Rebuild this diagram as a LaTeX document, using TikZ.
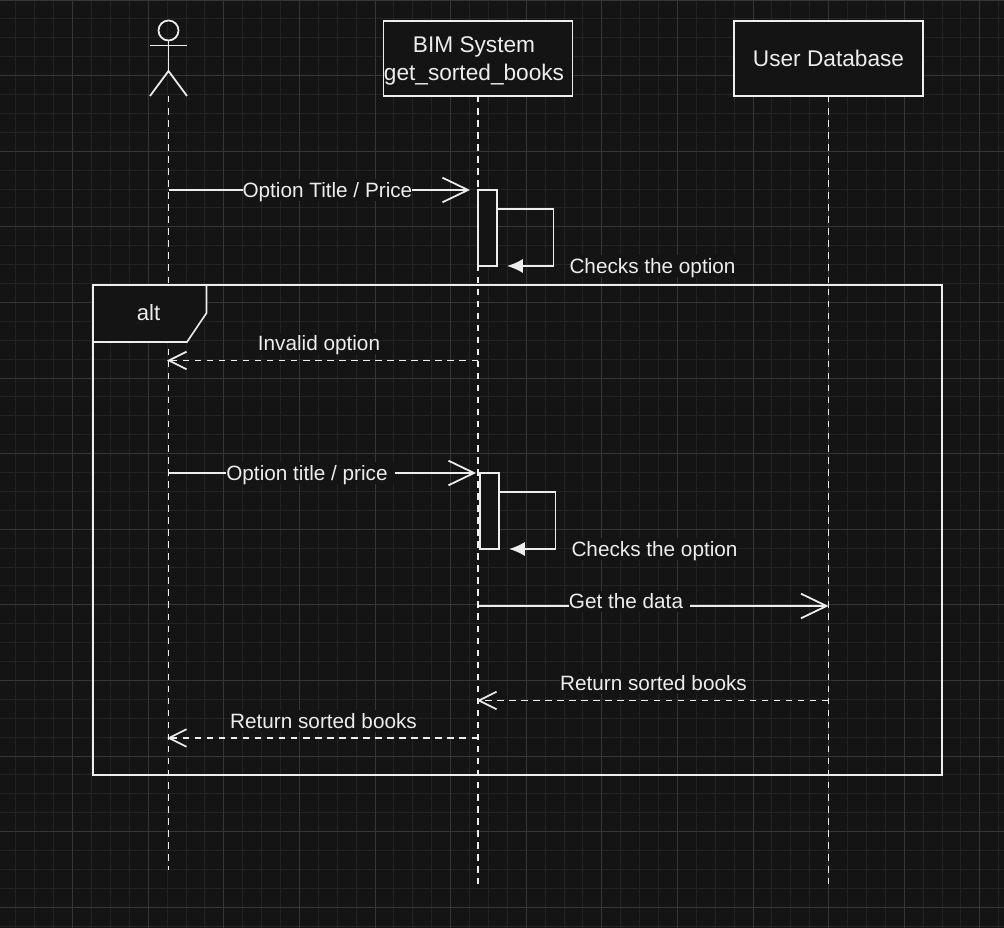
\documentclass[tikz,border=0pt]{standalone}
\usepackage{fontspec}
\setmainfont{Liberation Sans}
\usetikzlibrary{arrows.meta}
\definecolor{bgdark}{HTML}{141414}
\definecolor{gridminor}{HTML}{232323}
\definecolor{gridmajor}{HTML}{363636}
\definecolor{inkwhite}{HTML}{EDEDED}
\begin{document}
\begin{tikzpicture}[x = 0.02cm, y = -0.02cm, >={Straight Barb[length = 10pt, width = 10pt]}]
    \useasboundingbox (0, 0) rectangle (1004, 928);
    \fill[bgdark] (0, 0) rectangle (1004, 928);

    \tikzstyle{lifebox} = [rectangle, draw = inkwhite, line width = 0.9pt, fill = bgdark, text = inkwhite, align = center, minimum width = 3.78cm, minimum height = 1.5cm, inner sep = 0pt, outer sep = 0pt, font = \fontsize{12.9}{16}\selectfont]
    \tikzstyle{lifeline} = [draw = inkwhite, line width = 1pt, dash pattern = on 3.7pt off 3.15pt]
    \tikzstyle{activation} = [rectangle, draw = inkwhite, line width = 0.9pt, fill = bgdark, minimum width = 0.38cm, minimum height = 1.52cm, inner sep = 0pt, outer sep = 0pt]
    \tikzstyle{msg} = [-{Straight Barb[length = 14.5pt, width = 14pt]}, draw = inkwhite, line width = 1pt]
    \tikzstyle{reply} = [->, draw = inkwhite, line width = 1pt, dash pattern = on 3.7pt off 3.15pt]
    \tikzstyle{selfcall} = [-{Latex[length = 9pt, width = 8pt]}, draw = inkwhite, fill = none, line width = 1pt]
    \tikzstyle{label} = [fill = bgdark, text = inkwhite, inner xsep = 0pt, inner ysep = 1pt, text height = 9pt, text depth = 1pt, font = \fontsize{11.8}{14}\selectfont]

    % grid
    \foreach \i in {0, ..., 53} {
        \draw[gridminor, line width = 0.5pt] ({-3 + 18.9 * \i}, 0) -- ({-3 + 18.9 * \i}, 928);
    }
    \foreach \i in {0, ..., 49} {
        \draw[gridminor, line width = 0.5pt] (0, {18.9 * \i}) -- (1004, {18.9 * \i});
    }
    \foreach \i in {0, ..., 13} {
        \draw[gridmajor, line width = 0.5pt] ({-3 + 75.6 * \i}, 0) -- ({-3 + 75.6 * \i}, 928);
    }
    \foreach \i in {0, ..., 12} {
        \draw[gridmajor, line width = 0.5pt] (0, {75.6 * \i}) -- (1004, {75.6 * \i});
    }

    % lifelines
    \coordinate (actorfoot) at (168.5, 96);
    \coordinate (actorend) at (168.5, 870);
    \coordinate (bimend) at (478, 884);
    \coordinate (udbend) at (828.5, 884);
    \node[lifebox] (bim) at (478, 58.5) {};
    \node[lifebox] (udb) at (828.5, 58.5) {User Database};
    \node[text = inkwhite, align = center, inner sep = 0pt, font = \fontsize{12.9}{16}\selectfont] (bimtext) at (474, 61) {BIM System\\get\_sorted\_books};
    \draw[lifeline] (actorfoot) -- (actorend);
    \draw[lifeline] (bim) -- (bimend);
    \draw[lifeline] (udb) -- (udbend);

    % actor
    \node[circle, draw = inkwhite, line width = 1pt, minimum size = 0.4cm, inner sep = 0pt] (head) at (168.5, 30.5) {};
    \coordinate (hip) at (168.5, 71);
    \coordinate (armleft) at (150, 45.5);
    \coordinate (armright) at (187, 45.5);
    \coordinate (legleft) at (150, 96);
    \coordinate (legright) at (187, 96);
    \draw[draw = inkwhite, line width = 1pt] (head) -- (hip);
    \draw[draw = inkwhite, line width = 1pt] (armleft) -- (armright);
    \draw[draw = inkwhite, line width = 1pt] (legleft) -- (hip) -- (legright);

    % frame
    \node[rectangle, draw = inkwhite, line width = 0.9pt, minimum width = 16.98cm, minimum height = 9.8cm, inner sep = 0pt, outer sep = 0pt] (frame) at (517.5, 530) {};
    \coordinate (tabtop) at (206.5, 285);
    \coordinate (tabside) at (206.5, 313);
    \coordinate (tabcut) at (187, 342);
    \draw[draw = inkwhite, line width = 0.9pt, fill = bgdark] (frame.north west) -- (tabtop) -- (tabside) -- (tabcut) -- (frame.west |- tabcut) -- cycle;
    \node[label, fill = none, font = \fontsize{12.6}{16}\selectfont] (alt) at (148.5, 313) {alt};

    % first request
    \node[activation] (act1) at (487.5, 228) {};
    \coordinate (a1) at (168.5, 190);
    \coordinate (b1) at (470, 190);
    \draw[msg] (a1) -- node[label, pos = 0.527] (l1) {Option Title / Price} (b1);
    \coordinate (s1a) at (553.5, 209);
    \coordinate (s1b) at (553.5, 266);
    \coordinate (s1c) at (507, 266);
    \draw[selfcall] (act1.east |- s1a) -- (s1a) -- (s1b) -- (s1c);
    \node[label] (l2) at (652.5, 266) {Checks the option};

    % invalid option
    \coordinate (b2) at (478, 360.5);
    \coordinate (a2) at (167, 360.5);
    \draw[reply] (b2) -- (a2);
    \node[label] (l3) at (319, 343.5) {Invalid option};

    % second request
    \node[activation] (act2) at (489.5, 511) {};
    \coordinate (a3) at (168.5, 473);
    \coordinate (b3) at (476, 473);
    \draw[msg] (a3) -- node[label, pos = 0.4618] (l4) {Option title / price\kern4pt} (b3);
    \coordinate (s2a) at (555.5, 492);
    \coordinate (s2b) at (555.5, 549);
    \coordinate (s2c) at (509, 549);
    \draw[selfcall] (act2.east |- s2a) -- (s2a) -- (s2b) -- (s2c);
    \node[label] (l5) at (654.5, 549) {Checks the option};

    % database
    \coordinate (b4) at (478, 606);
    \coordinate (d4) at (828.5, 606);
    \draw[msg] (b4) -- (d4);
    \node[label] (l6) at (629.5, 601.5) {Get the data\kern4pt};
    \coordinate (d5) at (828.5, 700.5);
    \coordinate (b5) at (477, 700.5);
    \draw[reply] (d5) -- (b5);
    \node[label] (l7) at (653.5, 683.5) {Return sorted books};
    \coordinate (b6) at (478, 738);
    \coordinate (a6) at (167, 738);
    \draw[reply] (b6) -- (a6);
    \node[label] (l8) at (323.5, 721) {Return sorted books};
\end{tikzpicture}
\end{document}
